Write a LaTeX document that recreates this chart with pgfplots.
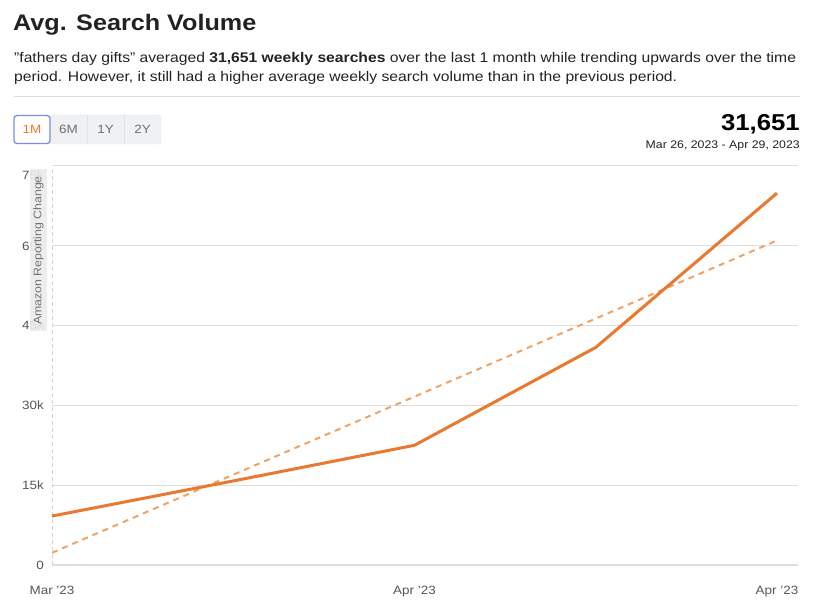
\documentclass[border=0pt]{standalone}
\usepackage{pgfplots}
\pgfplotsset{compat=1.18}
\usepackage{fontspec}
\setmainfont[FakeStretch=1.12]{Liberation Sans}
\definecolor{orangeL}{HTML}{E8792F}
\definecolor{orangeT}{HTML}{F0A366}
\definecolor{gridc}{HTML}{DEDEDE}
\definecolor{txt}{HTML}{222222}
\definecolor{tickc}{HTML}{555555}
\definecolor{btnfill}{HTML}{F0F1F3}
\definecolor{btnborder}{HTML}{E2E3E6}
\definecolor{btnblue}{HTML}{7B8CE8}
\begin{document}
\begin{tikzpicture}[x=1pt,y=1pt]
\useasboundingbox (0,0) rectangle (830,613);
% header
\node[anchor=base west, inner sep=0, text=txt, font=\fontsize{22.5}{22.5}\selectfont\bfseries] at (13,582) {Avg. Search Volume};
\node[anchor=base west, inner sep=0, text=txt, font=\fontsize{14}{14}\selectfont] at (14,550) {"fathers day gifts" averaged \textbf{31,651 weekly searches} over the last 1 month while trending upwards over the time};
\node[anchor=base west, inner sep=0, text=txt, font=\fontsize{14}{14}\selectfont] at (14,531) {period. However, it still had a higher average weekly search volume than in the previous period.};
\draw[gridc, line width=1pt] (14,516) -- (800,516);
% buttons
\draw[btnborder, fill=btnfill, rounded corners=2pt] (50,469) rectangle (161,498);
\draw[btnborder] (87,469) -- (87,498);
\draw[btnborder] (124,469) -- (124,498);
\draw[btnblue, fill=white, line width=1.3pt, rounded corners=3pt] (14,469.5) rectangle (50,497.5);
\node[text=orangeL, font=\fontsize{12}{12}\selectfont] at (32,483.5) {1M};
\node[text=tickc!85, font=\fontsize{12}{12}\selectfont] at (68.5,483.5) {6M};
\node[text=tickc!85, font=\fontsize{12}{12}\selectfont] at (105.5,483.5) {1Y};
\node[text=tickc!85, font=\fontsize{12}{12}\selectfont] at (142.5,483.5) {2Y};
\node[anchor=base east, inner sep=0, text=black, font=\fontsize{23}{23}\selectfont\bfseries] at (800,482) {31,651};
\node[anchor=base east, inner sep=0, text=txt, font=\fontsize{11}{11}\selectfont] at (800,464) {Mar 26, 2023 - Apr 29, 2023};
\begin{axis}[
  at={(52pt,48pt)}, anchor=south west, scale only axis,
  width=746pt, height=399pt,
  xmin=0, xmax=4.116, ymin=0, ymax=75000,
  axis line style={draw=none},
  tick style={draw=none},
  ytick={0,15000,30000,45000,60000,75000},
  yticklabels={0,15k,30k,45k,60k,\raisebox{-14pt}[0pt][0pt]{75k}},
  scaled y ticks=false,
  xtick={0,2,4},
  xticklabels={Mar '23,Apr '23,Apr '23},
  ymajorgrids, grid style={gridc, line width=1pt},
  tick label style={font=\fontsize{12}{12}\selectfont, text=tickc, inner sep=0pt},
  yticklabel style={xshift=-8pt},
  xticklabel style={yshift=-21pt},
  clip=false,
]
\addplot[gridc, line width=1.8pt, forget plot] coordinates {(0,0) (4.116,0)};
\addplot[gray!35, dash pattern=on 4pt off 3pt, line width=0.9pt, forget plot] coordinates {(0,0) (0,75000)};
\addplot[orangeT, line width=2pt, dash pattern=on 6pt off 5pt] coordinates {(0,2300) (4,61000)};
\addplot[orangeL, line width=3pt, line join=round] coordinates {(0,9200) (1,15800) (2,22500) (3,40900) (4,69900)};
\end{axis}
\node[rotate=90, fill=gray!16, fill opacity=0.9, text opacity=1, text=gray!90!black, inner sep=0pt, minimum height=17pt, minimum width=162pt, font=\fontsize{11}{11}\selectfont] at (38.5,362.5) {Amazon Reporting Change};
\end{tikzpicture}
\end{document}
